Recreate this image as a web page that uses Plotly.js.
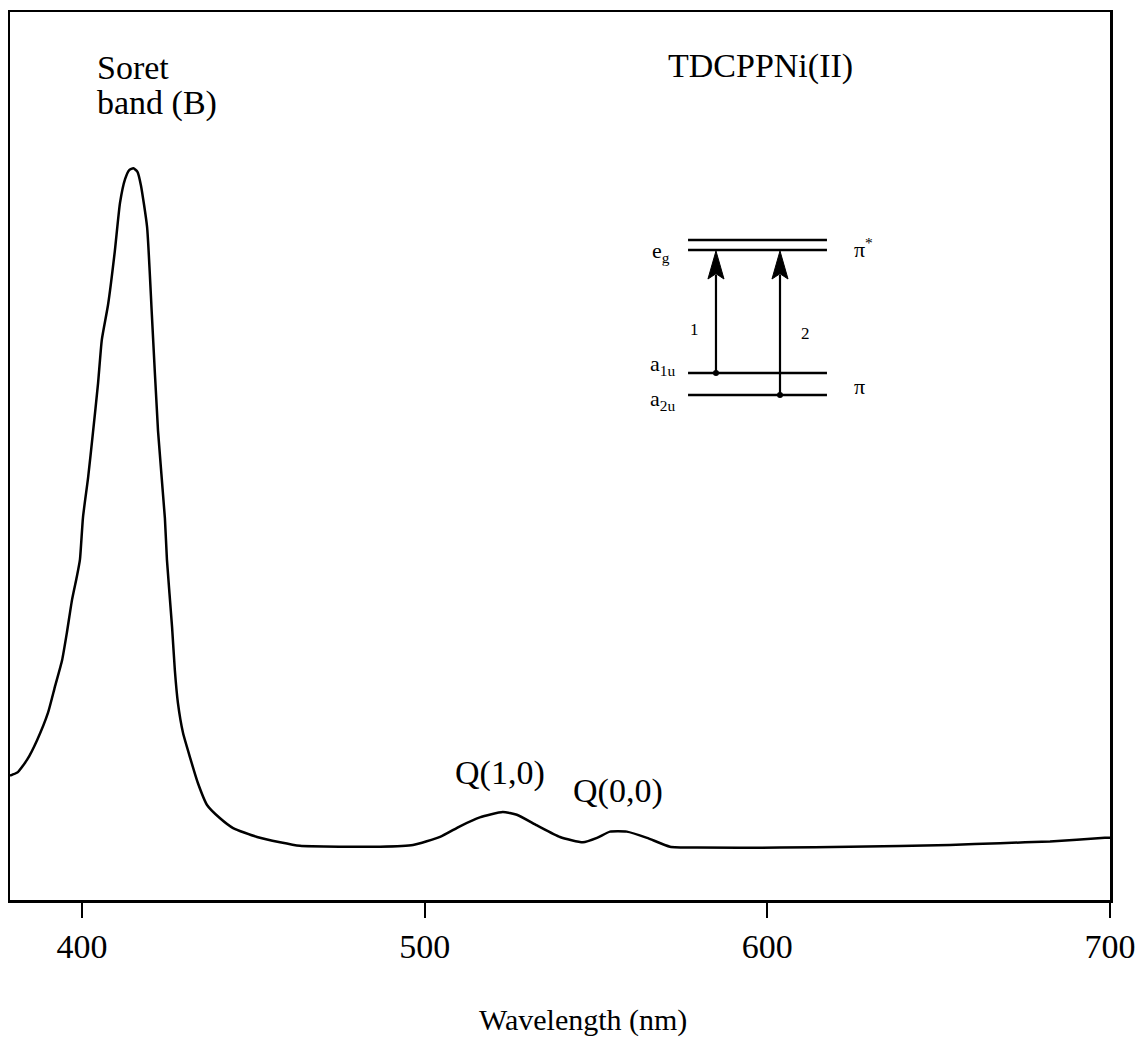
<!DOCTYPE html>
<html>
<head>
<meta charset="utf-8">
<script src="https://cdn.plot.ly/plotly-3.0.1.min.js"></script>
<style>html,body{margin:0;padding:0;background:#fff;}#chart{width:1139px;height:1037px;}</style>
</head>
<body>
<div id="chart"></div>
<script>
// Absorption spectrum of TDCPPNi(II)
const wavelength = [379.0, 379.6, 381.3, 384.0, 386.9, 390.1, 392.1, 394.2, 395.6, 397.1,
  398.5, 399.4, 400.3, 401.8, 403.2, 404.7, 405.8, 407.6, 409.6, 411.1,
  412.6, 413.8, 415.0, 416.2, 417.2, 419.0, 420.4, 422.2, 424.2, 424.8,
  426.3, 427.1, 428.0, 429.5, 431.5, 433.8, 436.5, 440.3, 444.1, 451.1,
  457.8, 463.6, 475.3, 487.0, 496.6, 504.5, 510.3, 516.1, 522.8, 526.9,
  532.8, 539.5, 546.2, 550.3, 554.1, 559.0, 564.9, 571.6, 579.5, 603.7,
  624.1, 653.3, 667.9, 682.5, 698.5, 700.0];
const absorbance = [0.140, 0.141, 0.144, 0.158, 0.180, 0.211, 0.240, 0.270, 0.301, 0.338,
  0.364, 0.383, 0.431, 0.476, 0.526, 0.582, 0.631, 0.670, 0.731, 0.785,
  0.812, 0.822, 0.824, 0.820, 0.805, 0.758, 0.659, 0.528, 0.430, 0.383,
  0.307, 0.259, 0.222, 0.188, 0.161, 0.132, 0.107, 0.092, 0.081, 0.071,
  0.065, 0.061, 0.060, 0.060, 0.062, 0.071, 0.083, 0.093, 0.099, 0.096,
  0.084, 0.071, 0.065, 0.070, 0.077, 0.077, 0.070, 0.060, 0.059, 0.059,
  0.060, 0.062, 0.064, 0.066, 0.070, 0.070];
const tickValues = [400, 500, 600, 700];
const tickLabels = ['400', '500', '600', '700'];

const serif = 'Liberation Serif, Times New Roman, serif';
const big = {family: serif, size: 34, color: '#000'};
const small = {family: serif, size: 22, color: '#000'};

// energy-level inset (paper coordinates)
const levelX0 = 0.6164, levelX1 = 0.7427;
const levelY = [0.7432, 0.7320, 0.5935, 0.5687];
const arrowX = [0.6418, 0.7];
const arrowTail = [0.5935, 0.5687];
const arrowTip = 0.7309, arrowBase = 0.6993, headHalf = 0.0073;

const shapes = levelY.map(y => ({
  type: 'line', xref: 'paper', yref: 'paper', x0: levelX0, x1: levelX1, y0: y, y1: y,
  line: {color: '#000', width: 2.5}
}));
arrowX.forEach((x, i) => {
  shapes.push({type: 'line', xref: 'paper', yref: 'paper', x0: x, x1: x, y0: arrowTail[i], y1: arrowBase + 0.005,
    line: {color: '#000', width: 2.2}});
  shapes.push({type: 'path', xref: 'paper', yref: 'paper',
    path: 'M ' + (x - headHalf) + ' ' + arrowBase + ' L ' + x + ' ' + arrowTip + ' L ' + (x + headHalf) + ' ' + arrowBase + ' L ' + x + ' ' + (arrowBase + 0.006) + ' Z',
    fillcolor: '#000', line: {color: '#000', width: 1}});
  shapes.push({type: 'circle', xref: 'paper', yref: 'paper', xsizemode: 'pixel', ysizemode: 'pixel',
    xanchor: x, yanchor: arrowTail[i], x0: -3, x1: 3, y0: -3, y1: 3,
    fillcolor: '#000', line: {color: '#000', width: 0}});
});

const annotations = [
  {text: 'Soret', x: 0.0773, y: 0.937, xanchor: 'left', yanchor: 'middle', font: big},
  {text: 'band (B)', x: 0.0773, y: 0.8975, xanchor: 'left', yanchor: 'middle', font: big},
  {text: 'TDCPPNi(II)', x: 0.5964, y: 0.939, xanchor: 'left', yanchor: 'middle', font: big},
  {text: 'Q(1,0)', x: 0.4455, y: 0.143, xanchor: 'center', yanchor: 'middle', font: big},
  {text: 'Q(0,0)', x: 0.5527, y: 0.1227, xanchor: 'center', yanchor: 'middle', font: big},
  {text: 'e<sub>g</sub>', x: 0.6018, y: 0.7297, xanchor: 'right', yanchor: 'middle', font: small},
  {text: 'π<sup>*</sup>', x: 0.7655, y: 0.734, xanchor: 'left', yanchor: 'middle', font: small},
  {text: 'a<sub>1u</sub>', x: 0.6064, y: 0.6025, xanchor: 'right', yanchor: 'middle', font: small},
  {text: 'a<sub>2u</sub>', x: 0.6064, y: 0.563, xanchor: 'right', yanchor: 'middle', font: small},
  {text: 'π', x: 0.7655, y: 0.5788, xanchor: 'left', yanchor: 'middle', font: small},
  {text: '1', x: 0.6227, y: 0.6419, xanchor: 'center', yanchor: 'middle', font: {family: serif, size: 17, color: '#000'}},
  {text: '2', x: 0.7236, y: 0.6385, xanchor: 'center', yanchor: 'middle', font: {family: serif, size: 17, color: '#000'}},
  {text: 'Wavelength (nm)', x: 0.521, y: -0.135, xanchor: 'center', yanchor: 'middle', font: {family: serif, size: 30, color: '#000'}}
].map(a => Object.assign({xref: 'paper', yref: 'paper', showarrow: false}, a));

const trace = {
  x: wavelength, y: absorbance, type: 'scatter', mode: 'lines',
  line: {color: '#000', width: 2.5, shape: 'spline', smoothing: 0.5},
  hoverinfo: 'skip', showlegend: false
};

const layout = {
  width: 1139, height: 1037,
  margin: {l: 10, r: 29, t: 12, b: 137, pad: 0},
  paper_bgcolor: '#fff', plot_bgcolor: '#fff',
  showlegend: false,
  xaxis: {
    range: [379, 700], showgrid: false, zeroline: false,
    showline: true, mirror: true, linecolor: '#000', linewidth: 2.5,
    ticks: 'outside', ticklen: 15, tickwidth: 2, tickcolor: '#000',
    tickvals: tickValues, ticktext: tickLabels,
    tickfont: {family: serif, size: 34, color: '#000'}
  },
  yaxis: {
    range: [0, 1], showgrid: false, zeroline: false,
    showline: true, mirror: true, linecolor: '#000', linewidth: 2.5,
    ticks: '', showticklabels: false
  },
  shapes: shapes,
  annotations: annotations
};

Plotly.newPlot('chart', [trace], layout, {displayModeBar: false, staticPlot: true});
</script>
</body>
</html>
